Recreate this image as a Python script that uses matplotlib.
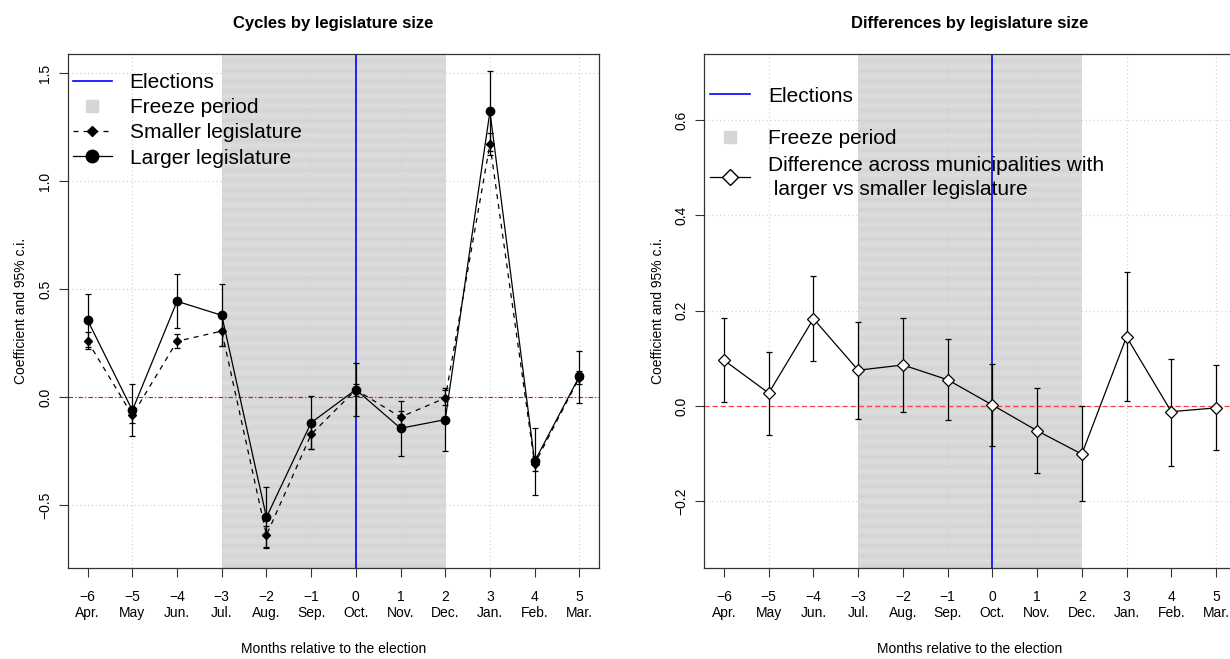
import numpy as np
import matplotlib
matplotlib.use("Agg")
import matplotlib.pyplot as plt
from matplotlib.lines import Line2D

plt.rcParams['font.family'] = ['Liberation Sans', 'DejaVu Sans']

months = [-6, -5, -4, -3, -2, -1, 0, 1, 2, 3, 4, 5]
month_names = ["Apr.", "May", "Jun.", "Jul.", "Aug.", "Sep.", "Oct.", "Nov.", "Dec.", "Jan.", "Feb.", "Mar."]

# larger legislature: coefficient and 95% interval
larger_coef = [0.355, -0.062, 0.443, 0.378, -0.557, -0.119, 0.034, -0.145, -0.105, 1.322, -0.298, 0.095]
larger_lo = [0.232, -0.181, 0.318, 0.236, -0.698, -0.243, -0.088, -0.272, -0.249, 1.137, -0.456, -0.026]
larger_hi = [0.478, 0.058, 0.568, 0.522, -0.416, 0.005, 0.155, -0.017, 0.040, 1.507, -0.144, 0.215]

# smaller legislature
smaller_coef = [0.258, -0.085, 0.258, 0.305, -0.640, -0.173, 0.033, -0.093, -0.005, 1.170, -0.310, 0.090]
smaller_lo = [0.221, -0.122, 0.225, 0.237, -0.695, -0.240, 0.005, -0.124, -0.035, 1.120, -0.345, 0.060]
smaller_hi = [0.299, -0.048, 0.290, 0.372, -0.596, -0.135, 0.062, -0.063, 0.034, 1.220, -0.275, 0.120]

# difference larger - smaller
diff_coef = [0.096, 0.027, 0.183, 0.075, 0.086, 0.055, 0.002, -0.052, -0.101, 0.145, -0.012, -0.004]
diff_lo = [0.008, -0.061, 0.094, -0.028, -0.013, -0.030, -0.083, -0.141, -0.200, 0.010, -0.125, -0.092]
diff_hi = [0.185, 0.113, 0.272, 0.177, 0.184, 0.141, 0.088, 0.037, -0.001, 0.281, 0.099, 0.085]

freeze_start, freeze_end = -3, 2
election_month = 0

left_yticks = [-0.5, 0.0, 0.5, 1.0, 1.5]
right_yticks = [-0.2, 0.0, 0.2, 0.4, 0.6]
left_ylim = (-0.792, 1.588)
right_ylim = (-0.34, 0.7385)

FREEZE_GRAY = "#d6d6d6"


def minus(s):
    return s.replace("-", "\u2212")


def setup_axes(ax, ylim, yticks, title):
    xlim = (months[0] - 0.44, months[-1] + 0.44)
    # striped grey block for the freeze period
    stripes = np.tile([0.865, 0.83], 52).reshape(-1, 1)
    ax.imshow(stripes, cmap="gray", vmin=0, vmax=1, aspect="auto",
              interpolation="bilinear", extent=(freeze_start, freeze_end, ylim[0], ylim[1]),
              zorder=0.5)
    for yv in yticks:
        ax.axhline(yv, color="#cfcfcf", lw=0.8, ls=(0, (1, 2.5)), zorder=0.3)
    for xv in months[1::2]:
        ax.axvline(xv, color="#cfcfcf", lw=0.8, ls=(0, (1, 2.5)), zorder=0.6)
    ax.axvline(election_month, color="blue", lw=1.2, zorder=2)
    ax.set_xlim(xlim)
    ax.set_ylim(ylim)
    ax.set_xticks(months)
    ax.set_xticklabels([minus(f"{m}") + "\n" + n for m, n in zip(months, month_names)],
                       fontsize=10, linespacing=1.2)
    ax.set_yticks(yticks)
    ax.set_yticklabels([minus(f"{v:.1f}") for v in yticks], fontsize=10,
                       rotation=90, va="center")
    ax.tick_params(axis="both", direction="out", length=6.5, width=0.8, color="#333333")
    ax.tick_params(axis="x", pad=9.5)
    ax.tick_params(axis="y", pad=5)
    for sp in ax.spines.values():
        sp.set_color("#333333")
        sp.set_linewidth(0.9)
    ax.set_title(title, fontsize=12, fontweight="bold", pad=18.7)
    ax.set_xlabel("Months relative to the election", fontsize=10, labelpad=15.5)
    ax.set_ylabel("Coefficient and 95% c.i.", fontsize=10, labelpad=7)


fig = plt.figure(figsize=(12.3, 6.59), dpi=100)
ax1 = fig.add_axes([68 / 1230, 1 - 568 / 659, 531 / 1230, 514 / 659])
ax2 = fig.add_axes([704.3 / 1230, 1 - 568 / 659, 531.4 / 1230, 514 / 659])

# left panel: cycles for both groups
setup_axes(ax1, left_ylim, left_yticks, "Cycles by legislature size")
ax1.axhline(0, color="red", lw=0.8, ls=(0, (4, 2, 1, 2)), zorder=1.5)

c_s = np.array(smaller_coef)
ax1.errorbar(months, smaller_coef,
             yerr=[c_s - np.array(smaller_lo), np.array(smaller_hi) - c_s],
             fmt="none", ecolor="black", elinewidth=0.9, capsize=2, capthick=0.9, zorder=3)
ax1.plot(months, smaller_coef, color="black", lw=0.9, ls=(0, (4, 4)),
         marker="D", ms=3.8, mfc="black", mec="black", zorder=3)

c_l = np.array(larger_coef)
ax1.errorbar(months, larger_coef,
             yerr=[c_l - np.array(larger_lo), np.array(larger_hi) - c_l],
             fmt="none", ecolor="black", elinewidth=0.9, capsize=2, capthick=0.9, zorder=3)
ax1.plot(months, larger_coef, color="black", lw=0.9, marker="o", ms=6,
         mfc="black", mec="black", zorder=3)

handles1 = [
    Line2D([], [], color="blue", lw=1.2),
    Line2D([], [], ls="none", marker="s", ms=9, mfc=FREEZE_GRAY, mec=FREEZE_GRAY),
    Line2D([], [], color="black", lw=0.9, ls=(0, (4, 4)), marker="D", ms=5.5, mfc="black"),
    Line2D([], [], color="black", lw=0.9, marker="o", ms=9, mfc="black"),
]
ax1.legend(handles1, ["Elections", "Freeze period", "Smaller legislature", "Larger legislature"],
           loc="upper left", bbox_to_anchor=(0, 0.973), frameon=False, fontsize=15,
           borderaxespad=0, borderpad=0.24, handlelength=1.87, handletextpad=0.85,
           labelspacing=0.3)

# right panel: difference
setup_axes(ax2, right_ylim, right_yticks, "Differences by legislature size")
ax2.axhline(0, color="#ff4040", lw=0.9, ls=(0, (4, 2.5)), zorder=1.5)

c_d = np.array(diff_coef)
ax2.errorbar(months, diff_coef,
             yerr=[c_d - np.array(diff_lo), np.array(diff_hi) - c_d],
             fmt="none", ecolor="black", elinewidth=0.9, capsize=2, capthick=0.9, zorder=3)
ax2.plot(months, diff_coef, color="black", lw=0.9, marker="D", ms=6,
         mfc="white", mec="black", mew=0.9, zorder=4)

leg_a = ax2.legend([Line2D([], [], color="blue", lw=1.2),
                    Line2D([], [], ls="none", marker="s", ms=9, mfc=FREEZE_GRAY, mec=FREEZE_GRAY)],
                   ["Elections", "Freeze period"],
                   loc="upper left", bbox_to_anchor=(0, 0.947), frameon=False, fontsize=15,
                   borderaxespad=0, borderpad=0.26, handlelength=1.95, handletextpad=0.87,
                   labelspacing=1.12)
ax2.add_artist(leg_a)
leg_b = ax2.legend([Line2D([], [], color="black", lw=0.9, marker="D", ms=8, mfc="white", mec="black")],
                   ["Difference across municipalities with\n larger vs smaller legislature"],
                   loc="upper left", bbox_to_anchor=(0, 0.813), frameon=False, fontsize=15,
                   borderaxespad=0, borderpad=0.26, handlelength=1.95, handletextpad=0.87)
for t in leg_b.get_texts():
    t.set_linespacing(1.36)

fig.savefig("out.png", dpi=100)
